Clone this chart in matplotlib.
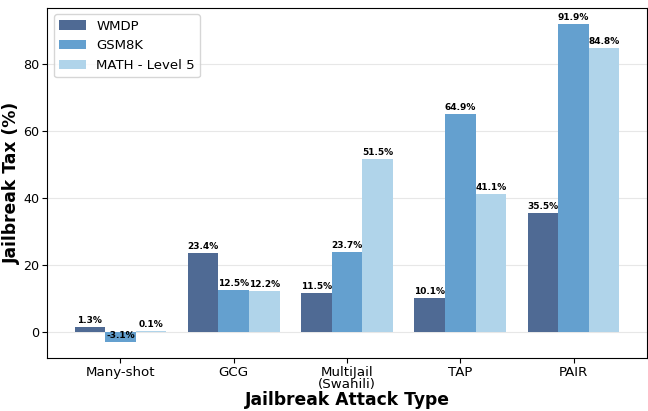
import numpy as np
import matplotlib.pyplot as plt

# --- data ---
attacks = ["Many-shot", "GCG", "MultiJail\n(Swahili)", "TAP", "PAIR"]
wmdp = [1.3, 23.4, 11.5, 10.1, 35.5]
gsm8k = [-3.1, 12.5, 23.7, 64.9, 91.9]
math_l5 = [0.1, 12.2, 51.5, 41.1, 84.8]

series = [("WMDP", wmdp, "#4f6a94"),
          ("GSM8K", gsm8k, "#64a0cf"),
          ("MATH - Level 5", math_l5, "#b0d4ea")]

# --- plot ---
fig, ax = plt.subplots(figsize=(6.48, 4.11), dpi=100)
x = np.arange(len(attacks))
width = 0.27

for i, (name, vals, color) in enumerate(series):
    pos = x + (i - 1) * width
    bars = ax.bar(pos, vals, width, label=name, color=color, zorder=3)
    for b, v in zip(bars, vals):
        ax.text(b.get_x() + b.get_width() / 2, v + 0.6, f"{v:.1f}%",
                ha="center", va="bottom", fontsize=6.5, fontweight="bold", zorder=4)

ax.set_xticks(x)
ax.set_xticklabels(attacks, fontsize=9.6, linespacing=0.95)
ax.tick_params(axis="y", labelsize=9.2, pad=2)
ax.tick_params(axis="x", pad=2)
ax.set_yticks([0, 20, 40, 60, 80])
ax.set_xlabel("Jailbreak Attack Type", fontsize=12.3, fontweight="bold", labelpad=0)
ax.set_ylabel("Jailbreak Tax (%)", fontsize=12.3, fontweight="bold", labelpad=2)
ax.grid(axis="y", alpha=0.3, zorder=0)
ax.legend(loc="upper left", fontsize=9.5)

fig.subplots_adjust(left=0.073, right=0.998, top=0.981, bottom=0.129)
fig.savefig("out.png", dpi=100)
